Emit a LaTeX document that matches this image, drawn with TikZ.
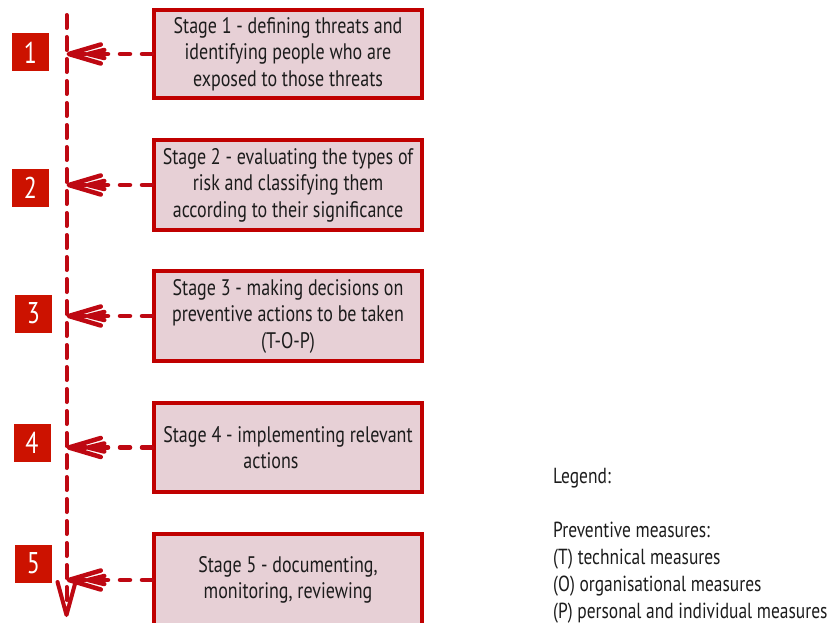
\documentclass[tikz,border=0pt]{standalone}
\usepackage{fontspec}
\setmainfont[FakeStretch=0.8]{PT Sans}
\usetikzlibrary{arrows.meta}
\definecolor{boxborder}{RGB}{192,0,0}
\definecolor{boxfill}{RGB}{231,208,214}
\definecolor{numfill}{RGB}{204,18,0}
\definecolor{linecol}{RGB}{190,8,18}
\definecolor{txt}{RGB}{28,28,28}
\begin{document}
\begin{tikzpicture}[x=1pt,y=-1pt,
  stagebox/.style={draw=boxborder,fill=boxfill,line width=4pt,minimum width=268pt,
    minimum height=88pt,inner sep=0pt,align=center,text=txt,
    font=\fontsize{22.5}{26.5}\selectfont},
  numbox/.style={fill=numfill,minimum width=37pt,minimum height=38pt,inner sep=0pt,
    text=white,font=\fontsize{30}{30}\selectfont},
  conn/.style={draw=linecol,line width=4.5pt,line cap=round,dash pattern=on 10pt off 12pt,
    -{Straight Barb[length=16pt,width=8pt,sep=-17pt,round]Straight Barb[length=32pt,width=19pt,round]}},
  axis/.style={draw=linecol,line width=4pt,line cap=round,dash pattern=on 13pt off 9pt,
    -{Straight Barb[length=33pt,width=18pt,round]}},
  legend/.style={align=left,anchor=north west,inner sep=0pt,text=txt,
    font=\fontsize{21.8}{27}\selectfont}]
\useasboundingbox (0,0) rectangle (837,623);
% vertical axis
\coordinate (top) at (66.5,15);
\coordinate (bot) at (66.5,617);
\draw[axis] (top) -- (bot);
% stage boxes
\node[stagebox] (b1) at (288,54) {Stage 1 - defining threats and\\identifying people who are\\exposed to those threats};
\node[stagebox,minimum height=90pt] (b2) at (288,185) {Stage 2 - evaluating the types of\\risk and classifying them\\according to their significance};
\node[stagebox,minimum height=90pt] (b3) at (288,316) {Stage 3 - making decisions on\\preventive actions to be taken\\(T-O-P)};
\node[stagebox,minimum height=89pt] (b4) at (288,447.5) {Stage 4 - implementing relevant\\actions\hspace*{34pt}};
\node[stagebox,minimum height=92pt] (b5) at (288,580) {Stage 5 - documenting,\\monitoring, reviewing};
% number boxes
\node[numbox] (n1) at (30.5,52.5) {1};
\node[numbox] (n2) at (30.5,188) {2};
\node[numbox] (n3) at (33.5,313.5) {3};
\node[numbox] (n4) at (32,443) {4};
\node[numbox] (n5) at (33.5,563.5) {5};
% connectors
\draw[conn] (b1.west) -- (b1.west -| top);
\draw[conn] (b2.west) -- (b2.west -| top);
\draw[conn] (b3.west) -- (b3.west -| top);
\draw[conn] (b4.west) -- (b4.west -| top);
\draw[conn] (b5.west) -- (b5.west -| top);
% legend
\node[legend] (leg) at (553,468) {Legend:\\[27pt]Preventive measures:\\(T) technical measures\\(O) organisational measures\\(P) personal and individual measures};
\end{tikzpicture}
\end{document}
